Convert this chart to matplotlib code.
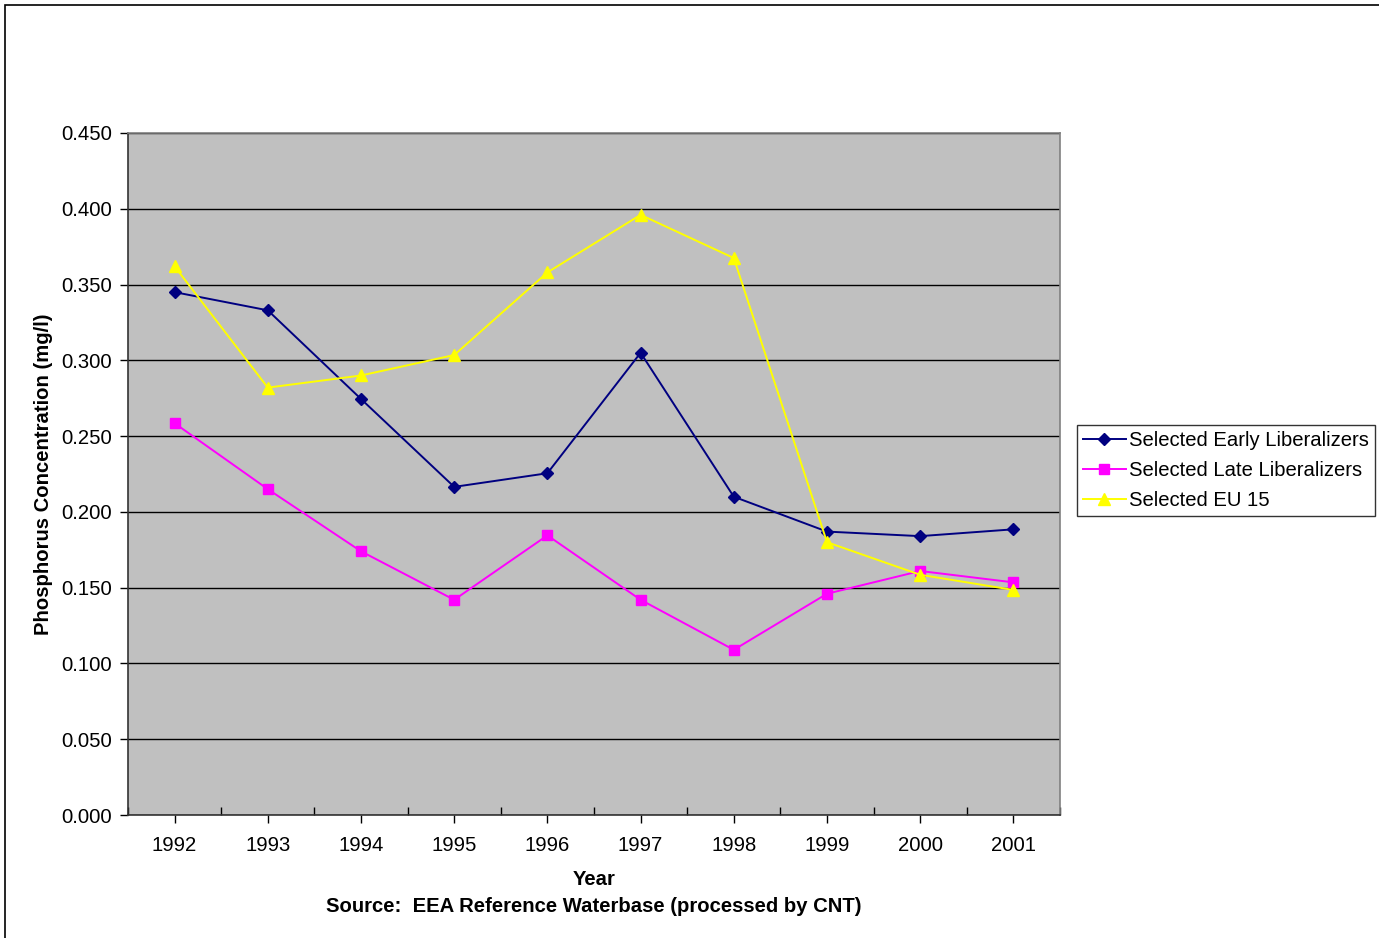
import numpy as np
import matplotlib.pyplot as plt
from matplotlib.patches import Rectangle

plt.rcParams['font.family'] = ['Liberation Sans', 'DejaVu Sans']

years = ["1992", "1993", "1994", "1995", "1996", "1997", "1998", "1999", "2000", "2001"]
early = [0.345, 0.333, 0.2745, 0.2165, 0.2255, 0.305, 0.210, 0.187, 0.184, 0.1885]
late = [0.2585, 0.215, 0.174, 0.142, 0.1845, 0.142, 0.109, 0.146, 0.161, 0.1535]
eu15 = [0.362, 0.282, 0.290, 0.3035, 0.358, 0.396, 0.3675, 0.180, 0.1585, 0.1485]

fs = 14.6

fig = plt.figure(figsize=(13.79, 9.38), dpi=100)
fig.patches.append(Rectangle((5/1379, -0.01), 1.0, 1 - 5/938 + 0.01, transform=fig.transFigure,
                             fill=False, edgecolor="black", linewidth=1.2))

ax = fig.add_axes([128/1379, 123/938, 932/1379, 682/938])
ax.set_facecolor("#C0C0C0")
x = np.arange(len(years))

ax.plot(x, early, color="#000080", marker="D", markersize=6, linewidth=1.4, label="Selected Early Liberalizers", zorder=3)
ax.plot(x, late, color="#FF00FF", marker="s", markersize=7, linewidth=1.4, label="Selected Late Liberalizers", zorder=3)
ax.plot(x, eu15, color="#FFFF00", marker="^", markersize=8, linewidth=1.4, label="Selected EU 15", zorder=3)

ax.set_xlim(-0.5, 9.5)
ax.set_ylim(0, 0.45)
ax.set_yticks(np.arange(0, 0.451, 0.05))
ax.set_yticklabels([f"{v:.3f}" for v in np.arange(0, 0.451, 0.05)])
ax.yaxis.grid(True, color="black", linewidth=1)
ax.set_axisbelow(True)

# categories at centres, tick marks at the boundaries
ax.set_xticks(np.arange(-0.5, 10, 1))
ax.set_xticklabels([])
ax.set_xticks(x, minor=True)
ax.set_xticklabels(years, minor=True)
ax.tick_params(axis="x", which="major", direction="in", length=6, width=1)
ax.tick_params(axis="x", which="minor", direction="out", length=6, width=1, pad=9, labelsize=fs)
ax.tick_params(axis="y", direction="out", length=6, width=1, labelsize=fs, pad=5.5)

for s in ["top", "right"]:
    ax.spines[s].set_color("#808080")
    ax.spines[s].set_linewidth(1.2)
for s in ["left", "bottom"]:
    ax.spines[s].set_color("#333333")
    ax.spines[s].set_linewidth(1.2)

ax.set_ylabel("Phosphorus Concentration (mg/l)", fontsize=fs, fontweight="bold", labelpad=6)
fig.text(594/1379, 1 - 879/938, "Year", ha="center", va="center", fontsize=fs, fontweight="bold")
fig.text(594/1379, 1 - 906/938, "Source:  EEA Reference Waterbase (processed by CNT)",
         ha="center", va="center", fontsize=fs, fontweight="bold")

leg = fig.legend(loc="center left", bbox_to_anchor=(1077/1379, 1 - 470.5/938), fontsize=fs,
                 frameon=True, fancybox=False, edgecolor="black", borderpad=0.3,
                 labelspacing=0.55, handlelength=2.1, handletextpad=0.15, borderaxespad=0)
leg.get_frame().set_linewidth(1)

fig.savefig("out.png", dpi=100)
